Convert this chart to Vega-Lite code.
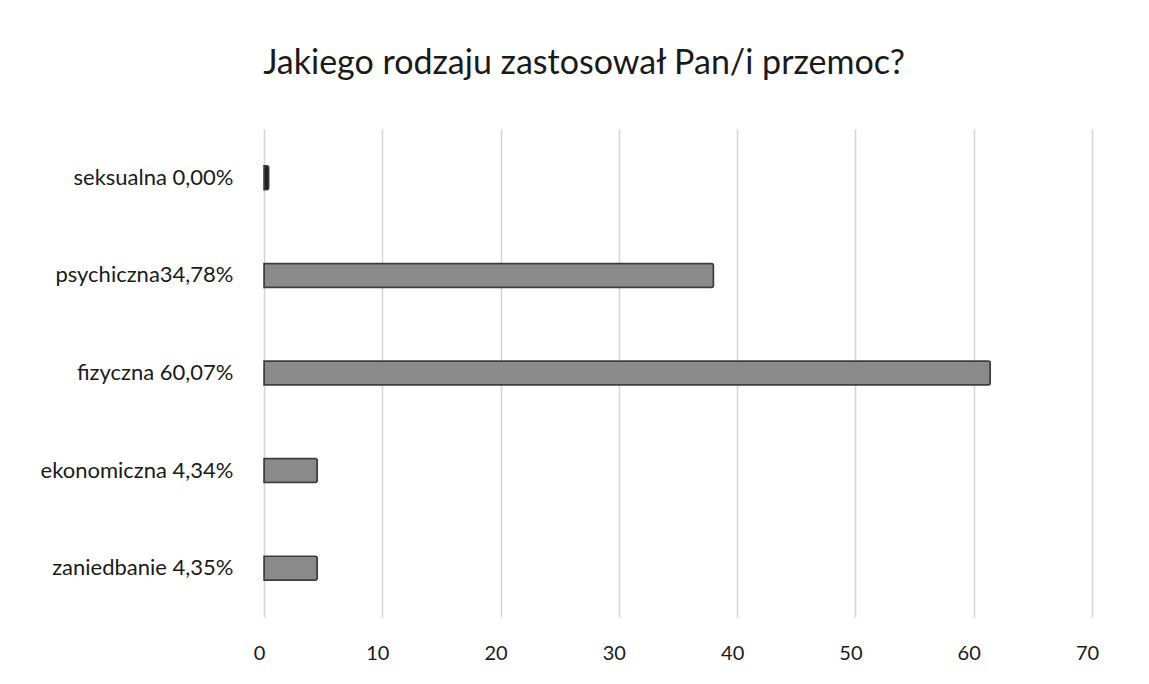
{
  "$schema": "https://vega.github.io/schema/vega-lite/v6.json",
  "autosize": "none",
  "width": 828,
  "height": 488,
  "padding": {"left": 264, "top": 129, "right": 57, "bottom": 67},
  "background": "white",
  "title": {
    "text": "Jakiego rodzaju zastosował Pan/i przemoc?",
    "anchor": "middle",
    "dx": -94,
    "offset": 48,
    "fontSize": 34,
    "font": "Lato",
    "fontWeight": "normal",
    "color": "#1a1a1a"
  },
  "data": {
    "values": [
      {"kategoria": "seksualna 0,00%", "wartosc": 0.4, "kolor": "dark"},
      {"kategoria": "psychiczna34,78%", "wartosc": 38.0, "kolor": "gray"},
      {"kategoria": "fizyczna 60,07%", "wartosc": 61.4, "kolor": "gray"},
      {"kategoria": "ekonomiczna 4,34%", "wartosc": 4.5, "kolor": "gray"},
      {"kategoria": "zaniedbanie 4,35%", "wartosc": 4.5, "kolor": "gray"}
    ]
  },
  "mark": {"type": "bar", "size": 24, "stroke": "#3c3c3c", "strokeWidth": 1.5, "cornerRadiusEnd": 2},
  "encoding": {
    "y": {
      "field": "kategoria",
      "type": "nominal",
      "sort": null,
      "title": null,
      "axis": {
        "domain": false,
        "ticks": false,
        "grid": false,
        "labelPadding": 31,
        "labelLimit": 400,
        "labelFontSize": 22,
        "labelFont": "Lato",
        "labelColor": "#1a1a1a"
      }
    },
    "x": {
      "field": "wartosc",
      "type": "quantitative",
      "title": null,
      "scale": {"domain": [0, 70], "nice": false},
      "axis": {
        "values": [0, 10, 20, 30, 40, 50, 60, 70],
        "domain": false,
        "ticks": false,
        "grid": true,
        "gridColor": "#d4d4d4",
        "gridWidth": 1.5,
        "labelPadding": 26,
        "labelOffset": -5,
        "labelFontSize": 20,
        "labelFont": "Lato",
        "labelColor": "#1a1a1a",
        "labelFlush": false
      }
    },
    "color": {
      "field": "kolor",
      "type": "nominal",
      "legend": null,
      "scale": {"domain": ["dark", "gray"], "range": ["#222222", "#8a8a8a"]}
    }
  },
  "config": {"view": {"stroke": null}}
}
